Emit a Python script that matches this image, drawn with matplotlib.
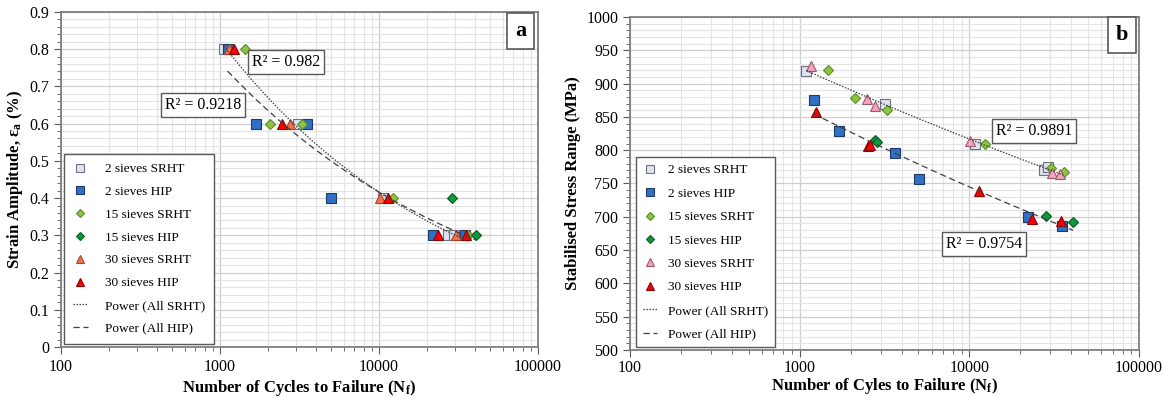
import numpy as np
import matplotlib
matplotlib.use('Agg')
import matplotlib.pyplot as plt
from matplotlib.ticker import MultipleLocator, LogLocator, NullFormatter

plt.rcParams['font.family'] = 'Liberation Serif'
plt.rcParams['mathtext.fontset'] = 'custom'
plt.rcParams['mathtext.rm'] = 'Liberation Serif'
plt.rcParams['mathtext.bf'] = 'Liberation Serif:bold'
plt.rcParams['mathtext.it'] = 'Liberation Serif:italic'

# ---------------- panel a : strain amplitude (%) ----------------
a_2_srht_n = [1060, 3100, 10640, 27100, 29500]
a_2_srht_y = [0.8, 0.6, 0.4, 0.3, 0.3]
a_2_hip_n = [1117, 1685, 3540, 4990, 21880, 34700]
a_2_hip_y = [0.8, 0.6, 0.6, 0.4, 0.3, 0.3]
a_15_srht_n = [1442, 2063, 3260, 12200, 36400]
a_15_srht_y = [0.8, 0.6, 0.6, 0.4, 0.3]
a_15_hip_n = [28900, 40800]
a_15_hip_y = [0.4, 0.3]
a_30_srht_n = [1137, 2755, 10140, 30400]
a_30_srht_y = [0.8, 0.6, 0.4, 0.3]
a_30_hip_n = [1228, 2470, 11400, 23400, 35200]
a_30_hip_y = [0.8, 0.6, 0.4, 0.3, 0.3]

# ---------------- panel b : stabilised stress range (MPa) ----------------
b_2_srht_n = [1095, 3175, 10830, 27400, 29200]
b_2_srht_y = [919, 869, 810, 770, 775]
b_2_hip_n = [1210, 1710, 3640, 5070, 22150, 35000]
b_2_hip_y = [875, 829, 796, 756, 699, 686]
b_15_srht_n = [1475, 2107, 3290, 12300, 30300, 36300]
b_15_srht_y = [921, 878, 860, 810, 774, 768]
b_15_hip_n = [2800, 2860, 28500, 40850]
b_15_hip_y = [816, 812, 701, 692]
b_30_srht_n = [1160, 2510, 2800, 10150, 30800, 34200]
b_30_srht_y = [926, 877, 866, 814, 766, 764]
b_30_hip_n = [1250, 2540, 2600, 11400, 23550, 34800]
b_30_hip_y = [858, 806, 808, 739, 697, 693]

labels = ['2 sieves SRHT', '2 sieves HIP', '15 sieves SRHT', '15 sieves HIP',
          '30 sieves SRHT', '30 sieves HIP']
r2_a = ['R² = 0.982', 'R² = 0.9218']
r2_b = ['R² = 0.9891', 'R² = 0.9754']

sq_light = dict(marker='s', ms=7, mfc='#dce3f0', mec='#6f6f7f', mew=0.8)
sq_blue = dict(marker='s', ms=7, mfc='#2f6fc4', mec='#1f3a66', mew=0.8)
dia_light = dict(marker='D', ms=5, mfc='#8cc63f', mec='#5b8a2b', mew=0.8)
dia_dark = dict(marker='D', ms=5, mfc='#0d9a3c', mec='#0b5a25', mew=0.8)
tri_red = dict(marker='^', ms=7, mfc='#ff0000', mec='#8b0000', mew=0.8)


def power_fit(n, y):
    n = np.asarray(n, float)
    y = np.asarray(y, float)
    b, loga = np.polyfit(np.log(n), np.log(y), 1)
    xs = np.logspace(np.log10(n.min()), np.log10(n.max()), 100)
    return xs, np.exp(loga) * xs ** b


def style_axes(ax, ymin, ymax, ymaj, ymin_step):
    ax.set_xscale('log')
    ax.set_xlim(100, 100000)
    ax.set_ylim(ymin, ymax)
    ax.set_xticks([100, 1000, 10000, 100000])
    ax.set_xticklabels(['100', '1000', '10000', '100000'])
    ax.xaxis.set_minor_locator(LogLocator(base=10, subs=np.arange(2, 10)))
    ax.xaxis.set_minor_formatter(NullFormatter())
    ax.yaxis.set_major_locator(MultipleLocator(ymaj))
    ax.yaxis.set_minor_locator(MultipleLocator(ymin_step))
    ax.grid(True, which='major', color='#cfcfcf', lw=0.9)
    ax.grid(True, which='minor', color='#e4e4e4', lw=0.8)
    ax.set_axisbelow(True)
    for sp in ax.spines.values():
        sp.set_color('#7f7f7f')
        sp.set_linewidth(1.3)
    ax.tick_params(which='major', direction='out', length=5, labelsize=11.5,
                   color='#595959')
    ax.tick_params(which='minor', direction='out', length=3, color='#595959')


fig = plt.figure(figsize=(11.64, 3.97), dpi=100)

# ---------- a ----------
ax = fig.add_axes([0.0524, 0.126, 0.4098, 0.844])
style_axes(ax, 0, 0.9, 0.1, 0.02)
ax.set_yticks(np.arange(0, 0.91, 0.1))
ax.set_yticklabels(['0', '0.1', '0.2', '0.3', '0.4', '0.5', '0.6', '0.7', '0.8', '0.9'])

srht_n = a_2_srht_n + a_15_srht_n + a_30_srht_n
srht_y = a_2_srht_y + a_15_srht_y + a_30_srht_y
hip_n = a_2_hip_n + a_15_hip_n + a_30_hip_n
hip_y = a_2_hip_y + a_15_hip_y + a_30_hip_y

ax.plot(a_2_srht_n, a_2_srht_y, ls='none', label=labels[0], zorder=3, **sq_light)
ax.plot(a_2_hip_n, a_2_hip_y, ls='none', label=labels[1], zorder=3, **sq_blue)
ax.plot(a_15_srht_n, a_15_srht_y, ls='none', label=labels[2], zorder=4, **dia_light)
ax.plot(a_15_hip_n, a_15_hip_y, ls='none', label=labels[3], zorder=4, **dia_dark)
ax.plot(a_30_srht_n, a_30_srht_y, ls='none', label=labels[4], zorder=4,
        marker='^', ms=7, mfc='#f4714c', mec='#a8432a', mew=0.8)
ax.plot(a_30_hip_n, a_30_hip_y, ls='none', label=labels[5], zorder=4, **tri_red)
xs, ys = power_fit(srht_n, srht_y)
ax.plot(xs, ys, ls=(0, (1.2, 1.2)), color='#404040', lw=0.9, label='Power (All SRHT)', zorder=5)
xs, ys = power_fit(hip_n, hip_y)
ax.plot(xs, ys, ls=(0, (5, 3)), color='#404040', lw=0.9, label='Power (All HIP)', zorder=5)

box = dict(boxstyle='square,pad=0.25', fc='white', ec='#595959', lw=1.0)
ax.text(2600, 0.766, r2_a[0], fontsize=11.5, ha='center', va='center', bbox=box, zorder=6)
ax.text(782, 0.65, r2_a[1], fontsize=11.5, ha='center', va='center', bbox=box, zorder=6)
ax.text(0.964, 0.943, 'a', transform=ax.transAxes, fontsize=16, fontweight='bold',
        ha='center', va='center', zorder=6,
        bbox=dict(boxstyle='square,pad=0.35', fc='white', ec='#595959', lw=1.2))
ax.set_xlabel(r'Number of Cycles to Failure (N$_{\mathbf{f}}$)', fontsize=12,
              fontweight='bold', labelpad=2)
ax.set_ylabel(r'Strain Amplitude, ε$_{\mathbf{a}}$ (%)', fontsize=12,
              fontweight='bold', labelpad=3)
leg = ax.legend(loc='lower left', bbox_to_anchor=(0.006, 0.009), borderaxespad=0,
                fontsize=9.5, labelspacing=0.8, handlelength=1.1, handletextpad=1.3,
                borderpad=0.7, fancybox=False, framealpha=1, markerscale=0.75)
leg.get_frame().set_edgecolor('#595959')
leg.get_frame().set_linewidth(1.0)
leg.set_zorder(7)

# ---------- b ----------
ax = fig.add_axes([0.5412, 0.1184, 0.4373, 0.8388])
style_axes(ax, 500, 1000, 50, 10)
ax.tick_params(axis='x', which='major', pad=2)

srht_n = b_2_srht_n + b_15_srht_n + b_30_srht_n
srht_y = b_2_srht_y + b_15_srht_y + b_30_srht_y
hip_n = b_2_hip_n + b_15_hip_n + b_30_hip_n
hip_y = b_2_hip_y + b_15_hip_y + b_30_hip_y

ax.plot(b_2_srht_n, b_2_srht_y, ls='none', label=labels[0], zorder=3, **sq_light)
ax.plot(b_2_hip_n, b_2_hip_y, ls='none', label=labels[1], zorder=3, **sq_blue)
ax.plot(b_15_srht_n, b_15_srht_y, ls='none', label=labels[2], zorder=4, **dia_light)
ax.plot(b_15_hip_n, b_15_hip_y, ls='none', label=labels[3], zorder=4, **dia_dark)
ax.plot(b_30_srht_n, b_30_srht_y, ls='none', label=labels[4], zorder=4,
        marker='^', ms=7, mfc='#f7a1bf', mec='#9a5a70', mew=0.8)
ax.plot(b_30_hip_n, b_30_hip_y, ls='none', label=labels[5], zorder=4, **tri_red)
xs, ys = power_fit(srht_n, srht_y)
ax.plot(xs, ys, ls=(0, (1.2, 1.2)), color='#404040', lw=0.9, label='Power (All SRHT)', zorder=5)
xs, ys = power_fit(hip_n, hip_y)
ax.plot(xs, ys, ls=(0, (5, 3)), color='#404040', lw=0.9, label='Power (All HIP)', zorder=5)

ax.text(24100, 829, r2_b[0], fontsize=11.5, ha='center', va='center', bbox=box, zorder=6)
ax.text(12250, 659, r2_b[1], fontsize=11.5, ha='center', va='center', bbox=box, zorder=6)
ax.text(0.967, 0.946, 'b', transform=ax.transAxes, fontsize=16, fontweight='bold',
        ha='center', va='center', zorder=6,
        bbox=dict(boxstyle='square,pad=0.35', fc='white', ec='#595959', lw=1.2))
ax.set_xlabel(r'Number of Cyles to Failure (N$_{\mathbf{f}}$)', fontsize=12,
              fontweight='bold', labelpad=0)
ax.set_ylabel('Stabilised Stress Range (MPa)', fontsize=12, fontweight='bold', labelpad=4)
leg = ax.legend(loc='lower left', bbox_to_anchor=(0.012, 0.009), borderaxespad=0,
                fontsize=9.5, labelspacing=0.85, handlelength=1.1, handletextpad=0.8,
                borderpad=0.5, fancybox=False, framealpha=1, markerscale=0.75)
leg.get_frame().set_edgecolor('#595959')
leg.get_frame().set_linewidth(1.0)
leg.set_zorder(7)

fig.savefig('out.png', dpi=100)
